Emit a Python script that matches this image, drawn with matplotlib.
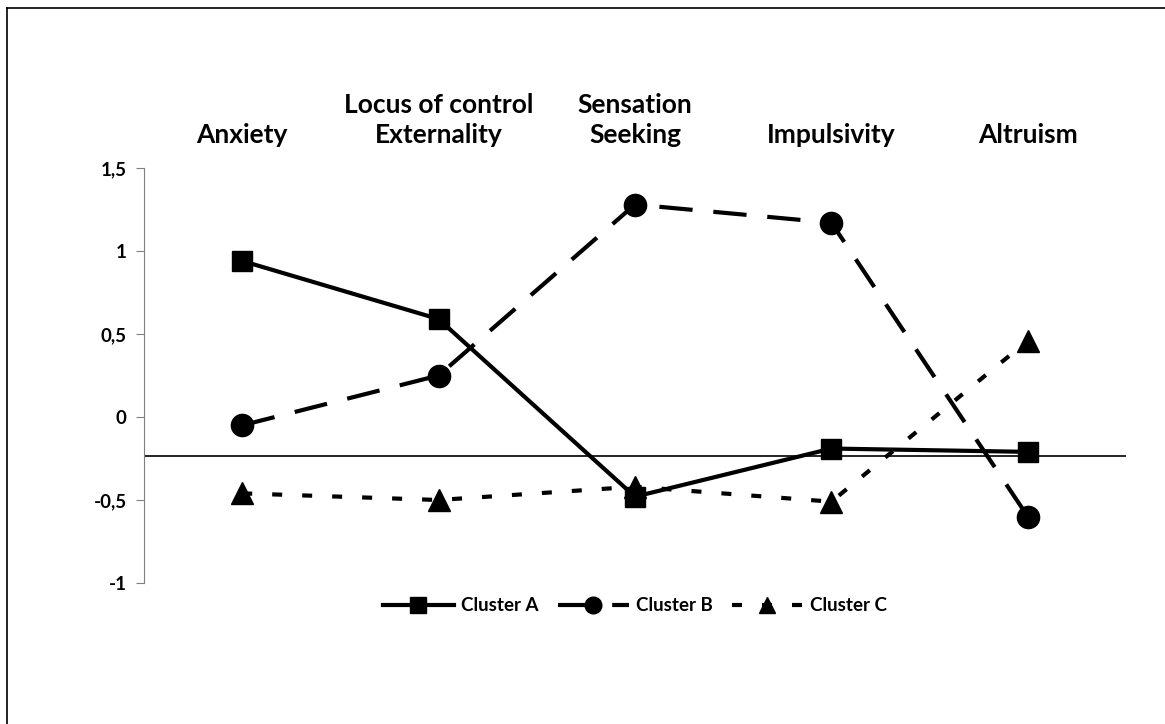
import numpy as np
import matplotlib.pyplot as plt
from matplotlib.lines import Line2D

categories = ["Anxiety", "Locus of control\nExternality", "Sensation\nSeeking", "Impulsivity", "Altruism"]
cluster_a = [0.94, 0.59, -0.48, -0.19, -0.21]
cluster_b = [-0.05, 0.25, 1.28, 1.17, -0.60]
cluster_c = [-0.46, -0.50, -0.42, -0.51, 0.46]
series_names = ["Cluster A", "Cluster B", "Cluster C"]
y_ticks = [-1, -0.5, 0, 0.5, 1, 1.5]
y_tick_labels = ["-1", "-0,5", "0", "0,5", "1", "1,5"]
axis_cross = -0.235

plt.rcParams['font.family'] = ['Lato', 'DejaVu Sans']

fig = plt.figure(figsize=(11.65, 7.24), dpi=100)
ax = fig.add_axes([144 / 1165, 1 - 583 / 724, (1126 - 144) / 1165, (583 - 168) / 724])

x = np.arange(len(categories))
ax.plot(x, cluster_a, color='black', lw=3, marker='s', ms=15, label=series_names[0])
ax.plot(x, cluster_b, color='black', lw=3, marker='o', ms=16, dashes=(8, 5), label=series_names[1])
ax.plot(x, cluster_c, color='black', lw=3, marker='^', ms=16, dashes=(2.4, 4.8), label=series_names[2])

ax.axhline(axis_cross, color='black', lw=1.2, zorder=0)
ax.set_xlim(-0.5, len(categories) - 0.5)
ax.set_ylim(-1, 1.5)
ax.set_yticks(y_ticks)
ax.set_yticklabels(y_tick_labels, fontsize=13.5, fontweight='bold')
ax.set_xticks([])
for s in ['top', 'right', 'bottom']:
    ax.spines[s].set_visible(False)
ax.spines['left'].set_color('#808080')
ax.tick_params(axis='y', direction='out', length=5.5, color='#808080', pad=7)

for i, c in enumerate(categories):
    ax.text(i, 1.05, c, transform=ax.get_xaxis_transform(), ha='center', va='bottom',
            fontsize=19, fontweight='bold', linespacing=1.3)

ax.legend(loc='center', bbox_to_anchor=(0.5, -0.055), ncol=3, frameon=False,
          prop={'weight': 'bold', 'size': 13.5}, handlelength=3.8, columnspacing=1.0,
          handletextpad=0.4, markerscale=0.75)

# partial frame around the chart area
fig.add_artist(Line2D([7 / 1165, 1.0], [1 - 8 / 724, 1 - 8 / 724], color='black', lw=1.2,
                      transform=fig.transFigure))
fig.add_artist(Line2D([7 / 1165, 7 / 1165], [0, 1 - 8 / 724], color='black', lw=1.2,
                      transform=fig.transFigure))

fig.savefig("out.png", dpi=100)
